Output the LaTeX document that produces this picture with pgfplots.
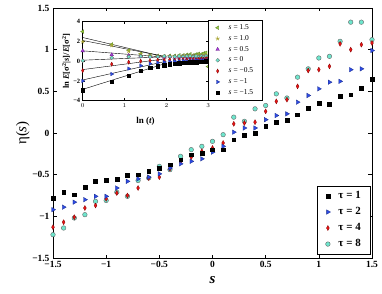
\documentclass[border=0pt]{standalone}
\usepackage{pgfplots}
\pgfplotsset{compat=1.18}
\usepackage{pgfplotstable}
\usepackage{fontspec}
\setmainfont{Liberation Serif}
\definecolor{cyanc}{RGB}{110,230,205}
\definecolor{redc}{RGB}{235,20,20}
\definecolor{bluec}{RGB}{45,75,230}
\definecolor{greenc}{RGB}{150,205,60}
\definecolor{olivec}{RGB}{210,205,60}
\definecolor{purplec}{RGB}{175,60,225}

\pgfplotstableread{
s t1 t2 t4 t8
-1.5 -0.78 -0.92 -1.13 -1.22
-1.4 -0.71 -0.89 -1.07 -1.14
-1.3 -0.74 -0.83 -1.01 -1.02
-1.2 -0.65 -0.80 -0.90 -0.98
-1.1 -0.58 -0.76 -0.87 -0.82
-1.0 -0.57 -0.76 -0.79 -0.81
-0.9 -0.55 -0.66 -0.72 -0.71
-0.8 -0.51 -0.58 -0.75 -0.76
-0.7 -0.50 -0.55 -0.66 -0.57
-0.6 -0.46 -0.53 -0.54 -0.54
-0.5 -0.42 -0.49 -0.53 -0.40
-0.4 -0.38 -0.42 -0.43 -0.44
-0.3 -0.32 -0.37 -0.35 -0.28
-0.2 -0.26 -0.34 -0.29 -0.20
-0.1 -0.24 -0.31 -0.22 -0.16
0.0 -0.20 -0.23 -0.18 -0.10
0.1 -0.20 -0.16 -0.12 -0.02
0.2 -0.08 0.01 0.11 0.19
0.3 -0.03 0.06 0.12 0.14
0.4 0.00 0.06 0.13 0.29
0.5 0.08 0.16 0.26 0.33
0.6 0.13 0.21 0.38 0.47
0.7 0.15 0.23 0.40 0.42
0.8 0.22 0.37 0.56 0.67
0.9 0.30 0.45 0.75 0.77
1.0 0.36 0.53 0.76 0.90
1.1 0.35 0.61 0.80 0.92
1.2 0.44 0.62 1.07 1.10
1.3 0.46 0.76 1.00 1.33
1.4 0.54 0.77 1.06 1.33
1.5 0.65 0.99 1.08 1.12
}\maindata

\pgfplotstableread{
lnt g o p c r b k
0.000 3.00 1.98 1.05 0.05 -0.95 -2.00 -2.95
0.693 1.70 1.60 0.65 0.35 -0.30 -1.30 -2.10
1.099 1.10 1.00 0.58 0.45 -0.10 -0.75 -1.45
1.386 0.75 0.70 0.50 0.50 0.00 -0.45 -0.95
1.609 0.60 0.55 0.45 0.45 0.05 -0.25 -0.65
1.792 0.55 0.50 0.45 0.45 0.10 -0.15 -0.50
1.946 0.50 0.50 0.40 0.50 0.10 -0.10 -0.40
2.079 0.55 0.50 0.45 0.45 0.15 -0.05 -0.30
2.197 0.55 0.45 0.40 0.45 0.10 0.00 -0.25
2.303 0.60 0.50 0.40 0.50 0.15 0.00 -0.20
2.398 0.60 0.50 0.45 0.45 0.20 0.05 -0.15
2.485 0.65 0.55 0.40 0.50 0.15 0.00 -0.15
2.565 0.70 0.50 0.40 0.50 0.20 0.05 -0.10
2.639 0.60 0.55 0.45 0.45 0.20 0.05 -0.10
2.708 0.70 0.50 0.40 0.50 0.15 0.10 -0.10
2.773 0.75 0.60 0.40 0.45 0.20 0.05 -0.05
2.833 0.70 0.55 0.45 0.50 0.25 0.10 -0.05
2.890 0.80 0.50 0.40 0.45 0.20 0.10 -0.05
2.944 0.86 0.60 0.45 0.50 0.25 0.10 0.00
2.996 -0.55 0.55 0.40 0.45 0.30 0.10 0.00
}\insetdata

\begin{document}
\begin{tikzpicture}
\useasboundingbox (-53bp,-36bp) rectangle (329bp,258bp);
\begin{axis}[
  at={(0,0)}, anchor=south west, scale only axis,
  width=319bp, height=250bp,
  xmin=-1.5, xmax=1.5, ymin=-1.5, ymax=1.5,
  xtick={-1.5,-1,-0.5,0,0.5,1,1.5},
  xticklabels={−1.5,−1,−0.5,0,0.5,1,1.5},
  ytick={-1.5,-1,-0.5,0,0.5,1,1.5},
  yticklabels={−1.5,−1,−0.5,0,0.5,1,1.5},
  tick align=inside, major tick length=3.5bp,
  tick style={black, line width=0.6bp},
  axis line style={line width=0.8bp},
  ticklabel style={font=\fontsize{9.5}{10}\selectfont\bfseries},
  xlabel={\textbf{\textit{s}}},
  ylabel={η(\textit{s})},
  xlabel style={font=\fontsize{15}{16}\selectfont, at={(axis description cs:0.5,-0.09)}, anchor=center},
  ylabel style={font=\fontsize{15}{16}\selectfont, at={(axis description cs:-0.095,0.5)}, anchor=center},
  legend style={at={(0.997,0.015)}, anchor=south east, draw=black, line width=0.6bp,
    font=\fontsize{11}{12}\selectfont\bfseries, row sep=3.3bp, inner xsep=8bp, inner ysep=3.5bp,
    /tikz/every odd column/.append style={column sep=6bp}},
  legend cell align=left,
  reverse legend,
]
\addplot[only marks, mark=*, mark size=2.3bp, mark options={fill=cyanc, draw=black!60, line width=0.4bp}] table[x=s,y=t8] {\maindata};
\addlegendentry{τ = 8}
\addplot[only marks, mark=diamond*, mark size=2.5bp, mark options={fill=redc, draw=red!50!black, line width=0.3bp, xscale=0.75}] table[x=s,y=t4] {\maindata};
\addlegendentry{τ = 4}
\addplot[only marks, mark=triangle*, mark size=2.6bp, mark options={fill=bluec, draw=bluec!60!black, line width=0.3bp, rotate=-90}] table[x=s,y=t2] {\maindata};
\addlegendentry{τ = 2}
\addplot[only marks, mark=square*, mark size=1.9bp, mark options={fill=black, draw=black}] table[x=s,y=t1] {\maindata};
\addlegendentry{τ = 1}
\end{axis}

\begin{axis}[
  at={(29.7bp,157.3bp)}, anchor=south west, scale only axis,
  width=125.6bp, height=79bp,
  xmin=0, xmax=3, ymin=-4, ymax=4,
  xtick={0,1,2,3}, ytick={-4,-2,0,2,4},
  yticklabels={−4,−2,0,2,4},
  axis background/.style={fill=white},
  tick align=inside, major tick length=2.5bp,
  tick style={black, line width=0.5bp},
  axis line style={line width=0.6bp},
  ticklabel style={font=\fontsize{6.5}{7}\selectfont\bfseries},
  xticklabel style={yshift=1bp},
  yticklabel style={xshift=1bp},
  xlabel={\textbf{ln (\textit{t})}},
  ylabel={\textbf{ln \textit{E}[σ\textsuperscript{2}|\textit{s}]/\textit{E}[σ\textsuperscript{2}]}},
  xlabel style={font=\fontsize{9}{10}\selectfont, at={(axis description cs:0.5,-0.26)}, anchor=center},
  ylabel style={font=\fontsize{8.5}{9}\selectfont, at={(axis description cs:-0.13,0.5)}, anchor=center},
  legend style={at={(1,0)}, anchor=south west, draw=black, line width=0.5bp,
    font=\fontsize{7.5}{8}\selectfont, row sep=0.4bp, inner xsep=7bp, inner ysep=2.5bp,
    /tikz/every odd column/.append style={column sep=7bp}},
  legend cell align=left,
]
\addplot[black, line width=0.4bp, forget plot] coordinates {(0,2.4) (2,0.4)};
\addplot[black, line width=0.4bp, forget plot] coordinates {(0,2.1) (2,0.45)};
\addplot[black, line width=0.4bp, forget plot] coordinates {(0,1.05) (2,0.4)};
\addplot[black, line width=0.4bp, forget plot] coordinates {(0,0.1) (2,0.45)};
\addplot[black, line width=0.4bp, forget plot] coordinates {(0,-0.85) (2,0.25)};
\addplot[black, line width=0.4bp, forget plot] coordinates {(0,-1.9) (2,0.0)};
\addplot[black, line width=0.4bp, forget plot] coordinates {(0,-2.85) (2,-0.2)};
\addplot[only marks, mark=triangle*, mark size=2.1bp, mark options={fill=greenc, draw=greenc!60!black, line width=0.3bp, rotate=90}] table[x=lnt,y=g] {\insetdata};
\addlegendentry{\textit{s} = 1.5}
\addplot[only marks, mark=star, mark size=2.1bp, mark options={draw=olivec!80!black, line width=0.6bp}] table[x=lnt,y=o] {\insetdata};
\addlegendentry{\textit{s} = 1.0}
\addplot[only marks, mark=triangle*, mark size=2.1bp, mark options={fill=purplec, draw=purplec!60!black, line width=0.3bp}] table[x=lnt,y=p] {\insetdata};
\addlegendentry{\textit{s} = 0.5}
\addplot[only marks, mark=*, mark size=1.9bp, mark options={fill=cyanc, draw=black!60, line width=0.3bp}] table[x=lnt,y=c] {\insetdata};
\addlegendentry{\textit{s} = 0}
\addplot[only marks, mark=diamond*, mark size=2.1bp, mark options={fill=redc, draw=red!50!black, line width=0.3bp, xscale=0.75}] table[x=lnt,y=r] {\insetdata};
\addlegendentry{\textit{s} = −0.5}
\addplot[only marks, mark=triangle*, mark size=2.1bp, mark options={fill=bluec, draw=bluec!60!black, line width=0.3bp, rotate=-90}] table[x=lnt,y=b] {\insetdata};
\addlegendentry{\textit{s} = −1}
\addplot[only marks, mark=square*, mark size=1.7bp, mark options={fill=black, draw=black}] table[x=lnt,y=k] {\insetdata};
\addlegendentry{\textit{s} = −1.5}
\end{axis}
\end{tikzpicture}
\end{document}
